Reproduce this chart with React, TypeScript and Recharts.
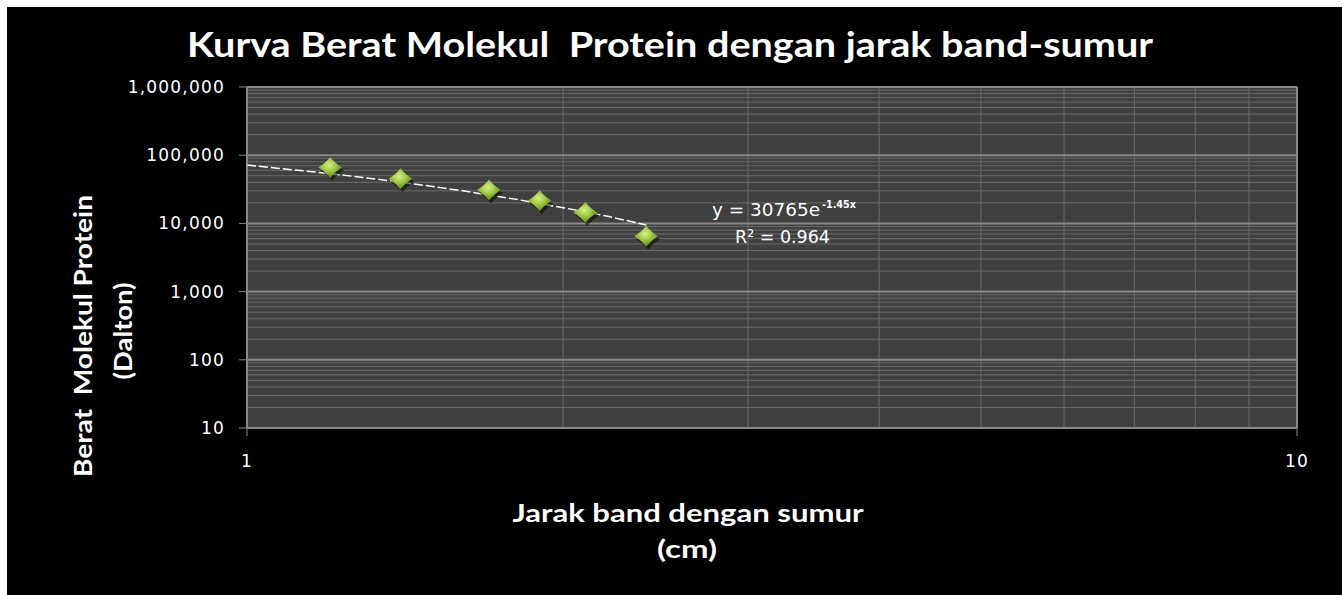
import React from 'react';
import { ComposedChart, Scatter, Line, XAxis, YAxis, CartesianGrid, Customized } from 'recharts';

// protein marker bands: distance from well (cm) vs molecular weight (Da)
const distances = [1.2, 1.4, 1.7, 1.9, 2.1, 2.4];
const molWeights = [66200, 45000, 31000, 21500, 14400, 6500];

// exponential trendline as drawn in the picture
const trendDistances = [1, 1.2, 1.4, 1.6, 1.8, 2.0, 2.2, 2.4];
const trendWeights = [71700, 53800, 40400, 30300, 22700, 17000, 12800, 9500];

const yTicks = [10, 100, 1000, 10000, 100000, 1000000];
const xTicks = [1, 10];
const minorSteps = [2, 3, 4, 5, 6, 7, 8, 9];
const yDecades = [10, 100, 1000, 10000, 100000];
const yMinor = yDecades.flatMap(d => minorSteps.map(s => s * d));
const xMinor = minorSteps;

const points = distances.map((x, i) => ({ x, y: molWeights[i] }));
const trend = trendDistances.map((x, i) => ({ x, y: trendWeights[i] }));

const Diamond = (props: any) => {
  const { cx, cy } = props;
  if (cx == null || cy == null) return <g />;
  const w = 12, h = 10.5, k = 4.5;
  const path = (ox: number, oy: number) =>
    `M${cx + ox},${cy + oy - h} Q${cx + ox + k},${cy + oy - k} ${cx + ox + w},${cy + oy} ` +
    `Q${cx + ox + k},${cy + oy + k} ${cx + ox},${cy + oy + h} Q${cx + ox - k},${cy + oy + k} ${cx + ox - w},${cy + oy} ` +
    `Q${cx + ox - k},${cy + oy - k} ${cx + ox},${cy + oy - h} Z`;
  return (
    <g>
      <path d={path(2, 3)} fill="rgba(0,0,0,0.5)" />
      <path d={path(0, 0)} fill="url(#diamondFill)" />
    </g>
  );
};

const labelFont = 'Lato, "Open Sans", sans-serif';

const Annotations = () => (
  <g>
    <text x={663} y={50} textAnchor="middle" fill="#fff" fontFamily={labelFont} fontWeight={700}
      fontSize={34} textLength={966} lengthAdjust="spacingAndGlyphs" style={{ whiteSpace: 'pre' }}>
      Kurva Berat Molekul  Protein dengan jarak band-sumur
    </text>
    <text transform="translate(85,329) rotate(-90)" textAnchor="middle" fill="#fff" fontFamily={labelFont}
      fontWeight={700} fontSize={25} textLength={282} lengthAdjust="spacingAndGlyphs" style={{ whiteSpace: 'pre' }}>
      Berat  Molekul Protein
    </text>
    <text transform="translate(125,324) rotate(-90)" textAnchor="middle" fill="#fff" fontFamily={labelFont}
      fontWeight={700} fontSize={25} textLength={97} lengthAdjust="spacingAndGlyphs">
      (Dalton)
    </text>
    <text x={681} y={515} textAnchor="middle" fill="#fff" fontFamily={labelFont} fontWeight={700}
      fontSize={24} textLength={351} lengthAdjust="spacingAndGlyphs">
      Jarak band dengan sumur
    </text>
    <text x={680} y={551} textAnchor="middle" fill="#fff" fontFamily={labelFont} fontWeight={700}
      fontSize={24} textLength={60} lengthAdjust="spacingAndGlyphs">
      (cm)
    </text>
    <text x={705} y={209} fill="#fff" fontFamily="DejaVu Sans" fontSize={18}
      textLength={108} lengthAdjust="spacingAndGlyphs">
      y = 30765e
    </text>
    <text x={815} y={201} fill="#fff" fontFamily="DejaVu Sans" fontSize={11} fontWeight={700}
      textLength={34} lengthAdjust="spacingAndGlyphs">
      -1.45x
    </text>
    <text x={728} y={236} fill="#fff" fontFamily="DejaVu Sans" fontSize={18}
      textLength={95} lengthAdjust="spacingAndGlyphs">
      R² = 0.964
    </text>
  </g>
);

const tickStyle = { fill: '#fff', fontSize: 17, fontFamily: 'DejaVu Sans', letterSpacing: 1.2 };

export default function App() {
  return (
    <div style={{ position: 'absolute', left: 0, top: 0, width: 1343, height: 595, background: '#fff' }}>
      <svg width={0} height={0} style={{ position: 'absolute' }}>
        <defs>
          <radialGradient id="diamondFill" cx="45%" cy="38%" r="62%">
            <stop offset="0%" stopColor="#d4ef8a" />
            <stop offset="45%" stopColor="#a2cc44" />
            <stop offset="100%" stopColor="#5b8719" />
          </radialGradient>
        </defs>
      </svg>
      <div style={{ position: 'absolute', left: 7, top: 7, width: 1335, height: 588, background: '#000' }}>
        <ComposedChart width={1335} height={588} margin={{ top: 80, right: 45, left: 160, bottom: 127 }}>
          <CartesianGrid fill="#404040" fillOpacity={1} stroke="#6a6a6a" strokeWidth={1}
            horizontalValues={yMinor} verticalValues={xMinor} />
          <CartesianGrid stroke="#898989" strokeWidth={2} />
          <XAxis type="number" dataKey="x" scale="log" domain={[1, 10]} ticks={xTicks} interval={0}
            allowDataOverflow axisLine={{ stroke: '#888' }} tickLine={{ stroke: '#888' }} tickSize={8}
            tickMargin={19} tick={tickStyle} height={40} />
          <YAxis type="number" dataKey="y" scale="log" domain={[10, 1000000]} ticks={yTicks} interval={0}
            allowDataOverflow axisLine={{ stroke: '#888' }} tickLine={{ stroke: '#888' }} tickSize={8}
            tickMargin={14} tick={tickStyle} width={80}
            tickFormatter={(v: number) => v.toLocaleString('en-US')} />
          <Line data={trend} dataKey="y" type="linear" stroke="#fff" strokeWidth={1.5}
            strokeDasharray="9 3" dot={false} activeDot={false} isAnimationActive={false} />
          <Scatter data={points} shape={Diamond} isAnimationActive={false} />
          <Customized component={Annotations} />
        </ComposedChart>
      </div>
    </div>
  );
}
